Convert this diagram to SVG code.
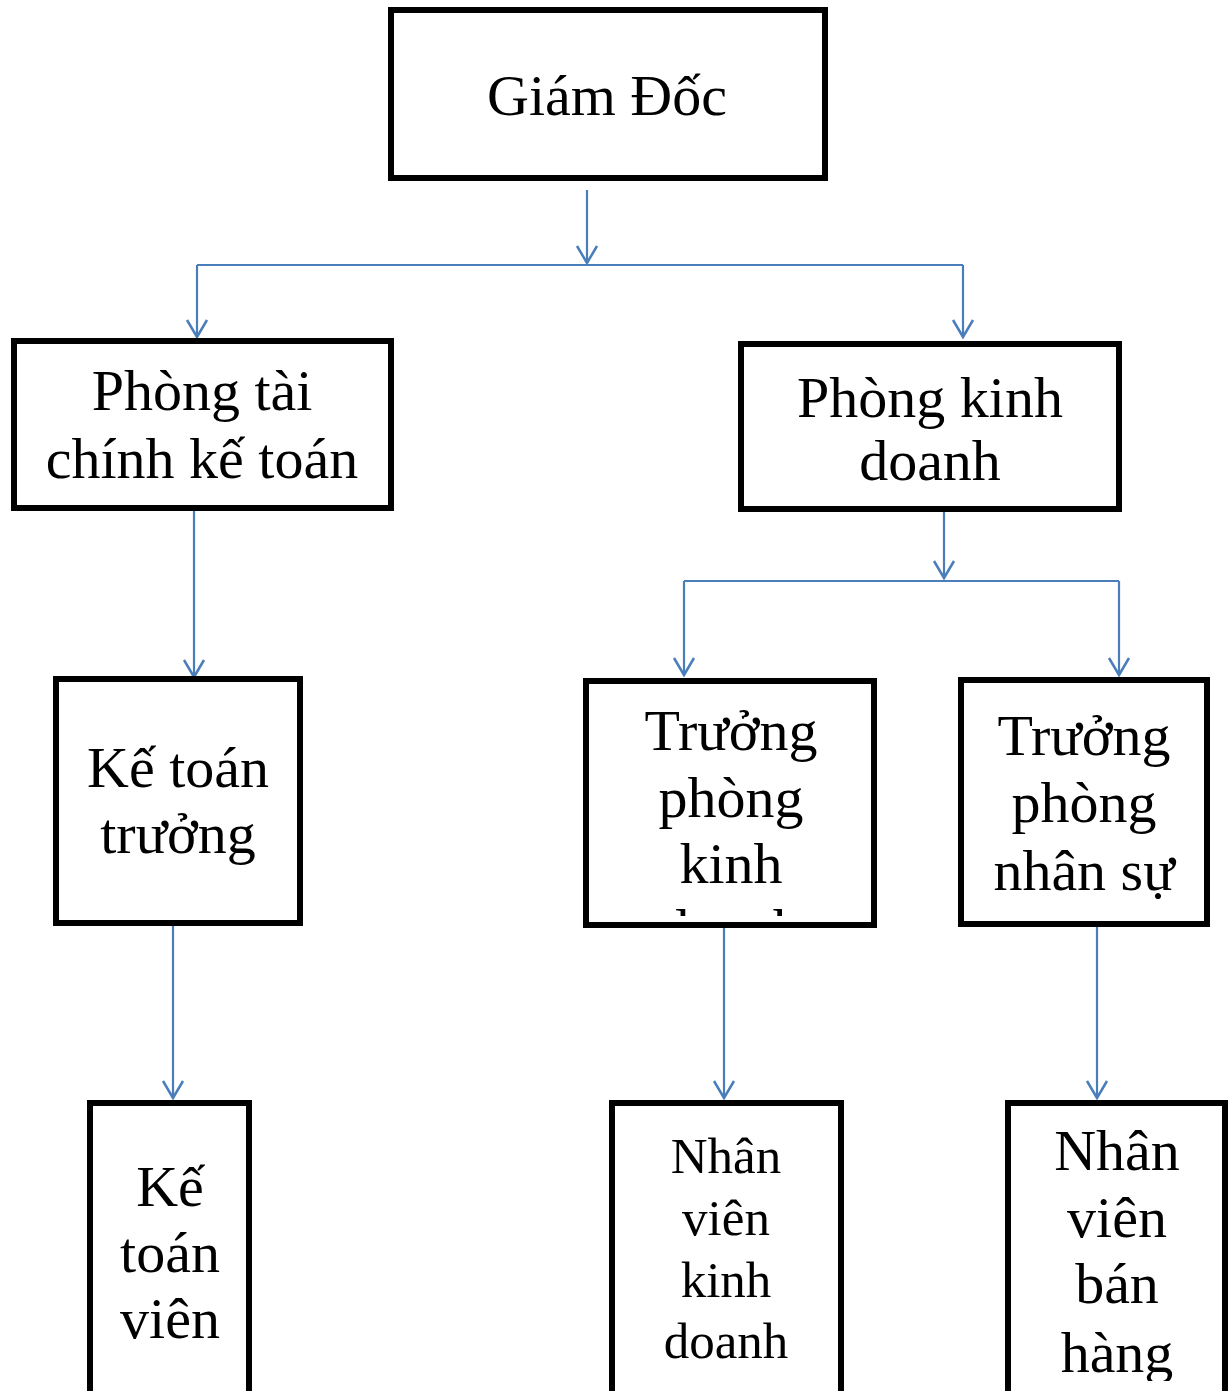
<svg xmlns="http://www.w3.org/2000/svg" width="1229" height="1391" viewBox="0 0 1229 1391">
<style>
.box{fill:#fff;stroke:#000;stroke-width:6}
.t{font-family:"Liberation Serif","Times New Roman",serif;font-size:58px;fill:#000;text-anchor:middle}
.s{font-size:51px}
.c{fill:none;stroke:#4a7ebb;stroke-width:2.2}
</style>
<defs>
<marker id="arr" markerUnits="userSpaceOnUse" markerWidth="24" markerHeight="24" refX="0" refY="0" orient="auto" overflow="visible">
<path d="M-17,-10 L0,0 L-17,10" fill="none" stroke="#4a7ebb" stroke-width="2.5"/>
</marker>
<clipPath id="clip5"><rect x="586" y="681" width="288" height="235"/></clipPath>
<clipPath id="clip9"><rect x="1008" y="1103" width="217" height="278"/></clipPath>
</defs>
<rect width="1229" height="1391" fill="#fff"/>
<g id="connectors">
<path class="c" d="M587,190 V263" marker-end="url(#arr)"/>
<path class="c" d="M197,265 H963"/>
<path class="c" d="M197,265 V337" marker-end="url(#arr)"/>
<path class="c" d="M963,265 V337" marker-end="url(#arr)"/>
<path class="c" d="M194,510 V677" marker-end="url(#arr)"/>
<path class="c" d="M944,510 V578" marker-end="url(#arr)"/>
<path class="c" d="M684,581 H1119"/>
<path class="c" d="M684,581 V675" marker-end="url(#arr)"/>
<path class="c" d="M1119,581 V675" marker-end="url(#arr)"/>
<path class="c" d="M173,926 V1098" marker-end="url(#arr)"/>
<path class="c" d="M724,926 V1098" marker-end="url(#arr)"/>
<path class="c" d="M1097,926 V1098" marker-end="url(#arr)"/>
</g>
<g id="giam-doc">
<rect class="box" x="391" y="10" width="434" height="168"/>
<text class="t" x="607" y="115">Giám Đốc</text>
</g>
<g id="phong-tai-chinh">
<rect class="box" x="14" y="341" width="377" height="167"/>
<text class="t" x="202" y="410">Phòng tài</text>
<text class="t" x="202" y="478">chính kế toán</text>
</g>
<g id="phong-kinh-doanh">
<rect class="box" x="741" y="344" width="378" height="165"/>
<text class="t" x="930" y="417">Phòng kinh</text>
<text class="t" x="930" y="480">doanh</text>
</g>
<g id="ke-toan-truong">
<rect class="box" x="56" y="679" width="244" height="244"/>
<text class="t" x="178" y="787">Kế toán</text>
<text class="t" x="178" y="853">trưởng</text>
</g>
<g id="truong-phong-kinh-doanh">
<rect class="box" x="586" y="681" width="288" height="244"/>
<g clip-path="url(#clip5)">
<text class="t" x="731" y="750">Trưởng</text>
<text class="t" x="731" y="817">phòng</text>
<text class="t" x="731" y="883">kinh</text>
<text class="t" x="731" y="949">doanh</text>
</g>
</g>
<g id="truong-phong-nhan-su">
<rect class="box" x="961" y="680" width="246" height="244"/>
<text class="t" x="1084" y="755">Trưởng</text>
<text class="t" x="1084" y="822">phòng</text>
<text class="t" x="1084" y="890">nhân sự</text>
</g>
<g id="ke-toan-vien">
<rect class="box" x="90" y="1103" width="159" height="320"/>
<text class="t" x="170" y="1206">Kế</text>
<text class="t" x="170" y="1272">toán</text>
<text class="t" x="170" y="1338">viên</text>
</g>
<g id="nhan-vien-kinh-doanh">
<rect class="box" x="612" y="1103" width="229" height="320"/>
<text class="t s" x="726" y="1173">Nhân</text>
<text class="t s" x="726" y="1235">viên</text>
<text class="t s" x="726" y="1297">kinh</text>
<text class="t s" x="726" y="1358">doanh</text>
</g>
<g id="nhan-vien-ban-hang">
<rect class="box" x="1008" y="1103" width="217" height="320"/>
<g clip-path="url(#clip9)">
<text class="t" x="1117" y="1170">Nhân</text>
<text class="t" x="1117" y="1237">viên</text>
<text class="t" x="1117" y="1303">bán</text>
<text class="t" x="1117" y="1372">hàng</text>
</g>
</g>
</svg>
